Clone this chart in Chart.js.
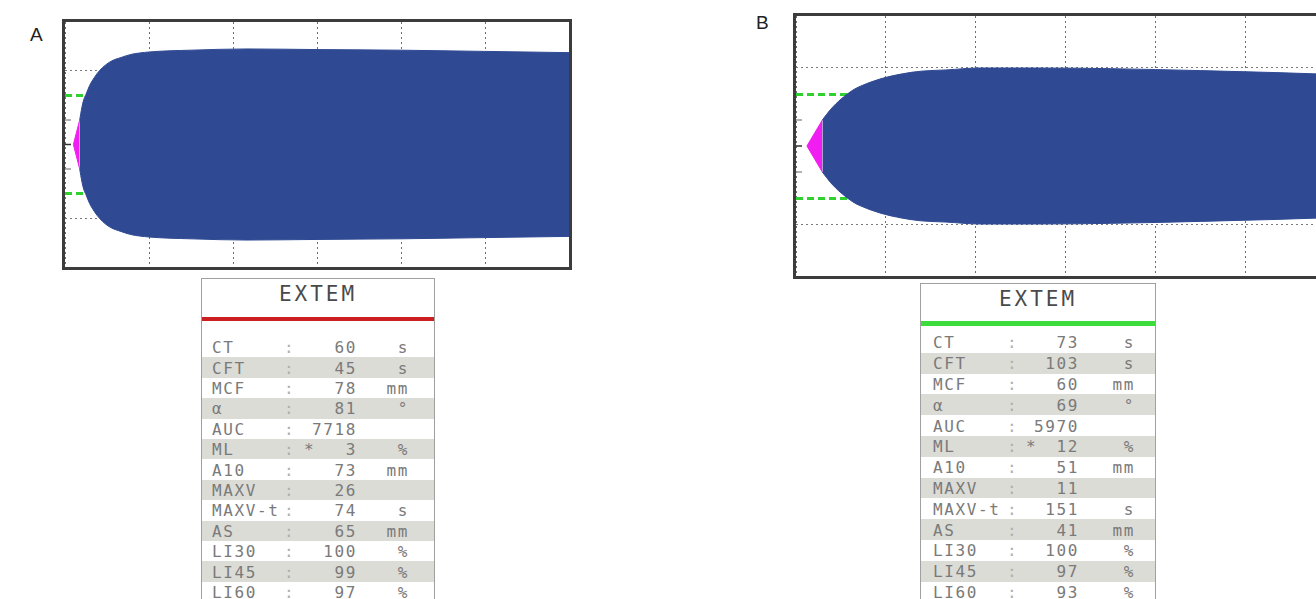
<!DOCTYPE html>
<html>
<head>
<meta charset="utf-8">
<script src="https://cdn.jsdelivr.net/npm/chart.js@4.4.0/dist/chart.umd.min.js"></script>
<style>
body{margin:0;width:1316px;height:599px;overflow:hidden;background:#fff;position:relative;font-family:'Liberation Sans',Arial,sans-serif;}
.frame{position:absolute;border:3px solid #3c3c3c;}
.frame canvas{display:block;}
.panel{position:absolute;font-size:19px;color:#222;}
.tbl{position:absolute;border:1.5px solid #a0a0a0;border-bottom:none;height:340px;background:#fff;overflow:hidden;
  font-family:'DejaVu Sans Mono',monospace;color:#7a7a7a;font-size:16px;letter-spacing:1.6px;}
.tbl .head{position:absolute;left:0;right:0;text-align:center;font-size:21px;letter-spacing:3px;color:#4a4a4a;}
.tbl .bar{position:absolute;left:0;right:0;height:4px;}
.tbl .row{position:absolute;left:0;right:0;}
.tbl .row span{position:absolute;top:50%;transform:translateY(-50%);white-space:pre;}
</style>
</head>
<body>
<div class="panel" style="left:30px;top:24px;">A</div>
<div class="panel" style="left:756px;top:12px;">B</div>
<div class="frame" style="left:62px;top:19px;"><canvas id="chartA" width="504" height="245"></canvas></div>
<div class="frame" style="left:793px;top:13px;"><canvas id="chartB" width="539" height="260"></canvas></div>
<div class="tbl" id="tableA" style="left:201px;top:278px;width:232px;"></div>
<div class="tbl" id="tableB" style="left:920px;top:283px;width:234px;"></div>
<script>
// trace amplitude (mm) against time (s)
var coagTimeA = [60, 80, 105];
var coagAmpA = [0, 9, 20];
var timeA = [105, 120, 135, 150, 175, 200, 230, 270, 330, 400, 470, 600, 900, 1300, 1800, 2400, 3000, 3600];
var ampA = [20, 30, 37, 41, 48, 53, 58, 63, 68, 71, 73.5, 75.5, 77, 78, 77.5, 77, 76, 75];

var coagTimeB = [73, 176];
var coagAmpB = [0, 20];
var timeB = [176, 230, 300, 380, 430, 560, 710, 830, 1000, 1230, 1600, 2100, 2700, 3200, 3600];
var ampB = [20, 28, 36, 43, 46, 51.5, 55.5, 57.5, 58.5, 60, 60, 59.5, 58, 56.5, 55];

var timeMax = 3600, timeStep = 600;
var ampMax = 100, ampStep = 20;
var greenLevel = 40, dottedLevel = 60;
var markLevels = [0, 20, -20];

// table
var rowLabels = ['CT', 'CFT', 'MCF', 'α', 'AUC', 'ML', 'A10', 'MAXV', 'MAXV-t', 'AS', 'LI30', 'LI45', 'LI60'];
var rowUnits = ['s', 's', 'mm', '°', '', '%', 'mm', '', 's', 'mm', '%', '%', '%'];
var valuesA = [60, 45, 78, 81, 7718, 3, 73, 26, 74, 65, 100, 99, 97];
var valuesB = [73, 103, 60, 69, 5970, 12, 51, 11, 151, 41, 100, 97, 93];
var flagged = ['ML'];

function pts(t, a, sign) {
    return t.map(function(x, i) { return {x: x, y: sign * a[i]}; });
}

function makeChart(id, t, amp, ct, ca) {
    var blue = '#2f4a93', pink = '#f01ef0';
    new Chart(document.getElementById(id), {
        type: 'line',
        data: {
            datasets: [
                // upper edge filled down to the lower edge, so the trace is one shape
                {data: pts(ct, ca, 1), borderColor: pink, backgroundColor: pink, fill: '+1', borderWidth: 1, pointRadius: 0},
                {data: pts(ct, ca, -1), borderColor: pink, fill: false, borderWidth: 1, pointRadius: 0},
                {data: pts(t, amp, 1), borderColor: blue, backgroundColor: blue, fill: '+1', borderWidth: 1, pointRadius: 0, cubicInterpolationMode: 'monotone'},
                {data: pts(t, amp, -1), borderColor: blue, fill: false, borderWidth: 1, pointRadius: 0, cubicInterpolationMode: 'monotone'},
                {type: 'scatter', data: markLevels.map(function(v) { return {x: 0, y: v}; }),
                 pointStyle: 'line', pointRadius: 6, pointBorderWidth: 1.5,
                 pointBorderColor: markLevels.map(function(v) { return v === 0 ? '#333' : '#999'; })}
            ]
        },
        options: {
            responsive: false,
            animation: false,
            events: [],
            layout: {padding: 0, autoPadding: false},
            plugins: {legend: {display: false}, tooltip: {enabled: false}},
            scales: {
                x: {
                    type: 'linear', min: 0, max: timeMax,
                    ticks: {display: false, stepSize: timeStep},
                    grid: {color: '#6e6e6e', lineWidth: 1, drawTicks: false},
                    border: {display: false, dash: [2, 3]}
                },
                y: {
                    type: 'linear', min: -ampMax, max: ampMax,
                    ticks: {display: false, stepSize: ampStep},
                    grid: {
                        drawTicks: false,
                        color: function(c) {
                            var v = Math.abs(c.tick.value);
                            if (v === greenLevel) return '#2fd12f';
                            if (v === dottedLevel) return '#7a7a7a';
                            return 'rgba(0,0,0,0)';
                        },
                        lineWidth: function(c) { return Math.abs(c.tick.value) === greenLevel ? 3 : 1; }
                    },
                    border: {
                        display: false,
                        dash: function(c) { return Math.abs(c.tick.value) === greenLevel ? [7, 4] : [2, 3]; }
                    }
                }
            }
        }
    });
}

makeChart('chartA', timeA, ampA, coagTimeA, coagAmpA);
makeChart('chartB', timeB, ampB, coagTimeB, coagAmpB);

function buildTable(id, values, cfg) {
    var el = document.getElementById(id);
    var html = '<div class="head" style="top:' + cfg.headTop + 'px">EXTEM</div>';
    html += '<div class="bar" style="top:' + cfg.barTop + 'px;height:' + cfg.barH + 'px;background:' + cfg.barColor + '"></div>';
    for (var i = 0; i < rowLabels.length; i++) {
        var top = cfg.rowTop + i * cfg.rowH;
        var bg = i % 2 === 1 ? '#dcdcd6' : 'transparent';
        html += '<div class="row" style="top:' + top + 'px;height:' + cfg.rowH + 'px;background:' + bg + '">';
        html += '<span style="left:' + cfg.cLabel + 'px">' + rowLabels[i] + '</span>';
        html += '<span style="left:' + cfg.cColon + 'px;color:#b0b0b0">:</span>';
        if (flagged.indexOf(rowLabels[i]) >= 0) html += '<span style="left:' + cfg.cFlag + 'px">*</span>';
        html += '<span style="right:' + cfg.cValue + 'px">' + values[i] + '</span>';
        html += '<span style="right:' + cfg.cUnit + 'px">' + rowUnits[i] + '</span>';
        html += '</div>';
    }
    el.innerHTML = html;
}

buildTable('tableA', valuesA, {headTop: 3, barTop: 38, barH: 4, barColor: '#cc1f1f', rowTop: 58, rowH: 20.4,
    cLabel: 10, cColon: 82, cFlag: 102, cValue: 77, cUnit: 25});
buildTable('tableB', valuesB, {headTop: 3, barTop: 37, barH: 5, barColor: '#3ddc3d', rowTop: 48, rowH: 20.8,
    cLabel: 12, cColon: 86, cFlag: 105, cValue: 76, cUnit: 20});
</script>
</body>
</html>
